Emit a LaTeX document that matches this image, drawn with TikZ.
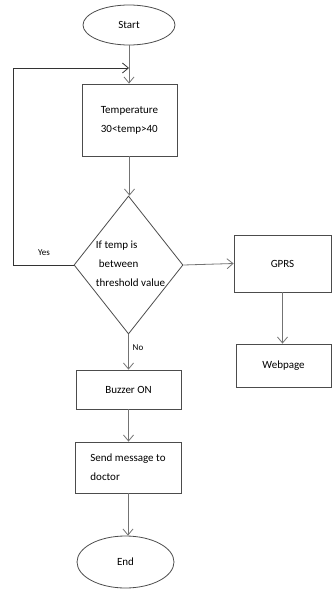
\documentclass[tikz,border=0pt]{standalone}
\usepackage{fontspec}
\setmainfont{Carlito}
\usetikzlibrary{shapes.geometric,arrows.meta}
\begin{document}
\begin{tikzpicture}[x=1pt,y=-1pt,
  font=\fontsize{11}{19}\selectfont,
  box/.style={draw=black!70, line width=0.8pt, inner sep=0pt, align=left},
  oval/.style={draw=black!70, line width=0.8pt, ellipse, inner sep=0pt},
  conn/.style={draw=black!55, line width=0.8pt, -{Straight Barb[length=6pt,width=10pt]}},
  loopline/.style={draw=black!80, line width=0.8pt, -{Straight Barb[length=6pt,width=10pt]}},
  lbl/.style={inner sep=0pt, font=\fontsize{9}{11}\selectfont}]
\useasboundingbox (0,0) rectangle (332,589);

\node[oval, minimum width=92, minimum height=40] (start) at (129,25) {Start};
\node[box, minimum width=95, minimum height=72] (temp) at (129.5,120) {Temperature\\30<temp>40};
\node[draw=black!70, line width=0.8pt, diamond, minimum width=109, minimum height=138, inner sep=0pt] (d) at (128.5,265) {};
\node[align=left, inner sep=0pt] (dtext) at (130.5,263.5) {If temp is\\\hspace{3pt}between\\threshold value};
\node[box, minimum width=97, minimum height=57] (gprs) at (282.5,263.5) {GPRS};
\node[box, minimum width=95, minimum height=43] (web) at (283.5,365.5) {Webpage};
\node[box, minimum width=105, minimum height=39] (buzz) at (128.5,389.5) {Buzzer ON};
\node[box, minimum width=106, minimum height=51] (send) at (128,467.5) {Send message to\\doctor};
\node[oval, minimum width=97, minimum height=52] (end) at (125.5,562) {End};

\node[lbl] (yes) at (44,253) {Yes};
\node[lbl] (no) at (138,348) {No};

\coordinate (loopin) at (129,68);
\coordinate (lc) at (13,68);

\draw[conn] (start.south) -- (start.south |- temp.north);
\draw[conn] (temp.south) -- (temp.south |- d.north);
\draw[loopline] (d.west) -| (lc) -- (loopin);
\draw[conn] (d.east) -- (gprs.west);
\draw[conn] (gprs.south) -- (gprs.south |- web.north);
\draw[conn] (d.south) -- (d.south |- buzz.north);
\draw[conn] (buzz.south) -- (buzz.south |- send.north);
\draw[conn] (send.south) -- (send.south |- end.north);
\end{tikzpicture}
\end{document}
